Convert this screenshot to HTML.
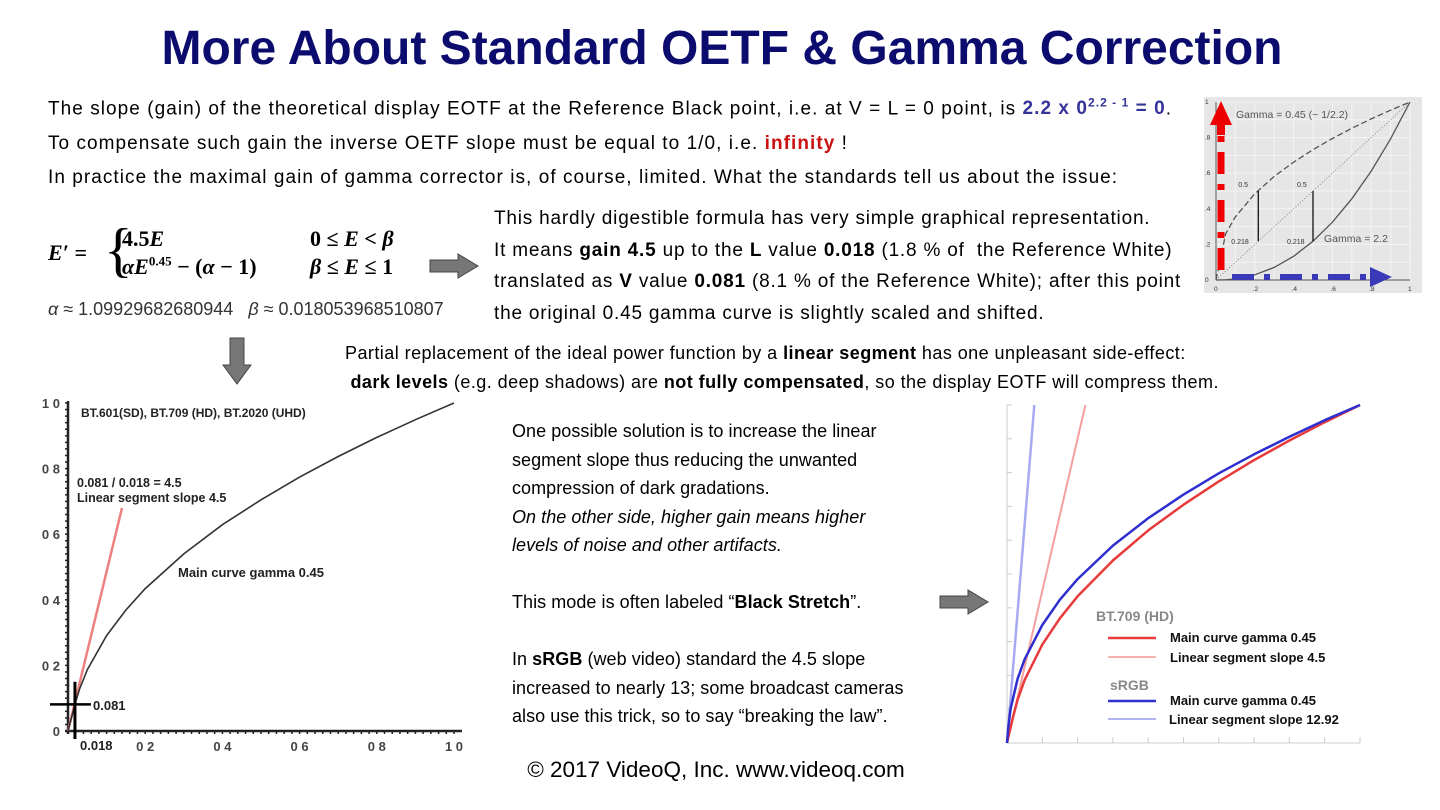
<!DOCTYPE html>
<html><head><meta charset="utf-8">
<style>
body{margin:0;width:1440px;height:810px;background:#fff;position:relative;overflow:hidden;font-family:"Liberation Sans",sans-serif;color:#000}
.a{position:absolute;white-space:nowrap}
.t{font-size:19px;letter-spacing:1.05px}
.e{font-size:19px;letter-spacing:0.8px}
.p{font-size:18px;letter-spacing:0.45px}
.m{font-size:18px;letter-spacing:0.05px}
b.blue{color:#33339a}
b.red{color:#cc1111}
.arrow{position:absolute}
</style></head><body>
<div class="a" style="left:0;width:1444px;text-align:center;top:21px;font-size:48px;font-weight:bold;color:#0c0c6e">More About Standard OETF &amp; Gamma Correction</div>
<div class="a t" style="left:48px;top:96px">The slope (gain) of the theoretical display EOTF at the Reference Black point, i.e. at V = L = 0 point, is <b class="blue">2.2 x 0<sup style="font-size:12px">2.2 - 1</sup> = 0</b>.</div>
<div class="a t" style="left:48px;top:133px">To compensate such gain the inverse OETF slope must be equal to 1/0, i.e. <b class="red">infinity</b> !</div>
<div class="a t" style="left:48px;top:167px">In practice the maximal gain of gamma corrector is, of course, limited. What the standards tell us about the issue:</div>

<div class="a" style="left:48px;top:226px;font-family:'Liberation Serif',serif;font-size:22px">
 <span style="position:absolute;left:0;top:14px;font-weight:bold;font-style:italic">E′ =</span>
 <span style="position:absolute;left:56px;top:-10px;font-size:60px;font-weight:normal">{</span>
 <span style="position:absolute;left:74px;top:0"><b>4.5<i>E</i></b></span>
 <span style="position:absolute;left:74px;top:28px"><b><i>αE</i><sup style="font-size:13px">0.45</sup> − (<i>α</i> − 1)</b></span>
 <span style="position:absolute;left:262px;top:0"><b>0 ≤ <i>E</i> &lt; <i>β</i></b></span>
 <span style="position:absolute;left:262px;top:28px"><b><i>β</i> ≤ <i>E</i> ≤ 1</b></span>
</div>
<div class="a" style="left:48px;top:299px;font-size:18px;color:#333"><i>α</i> ≈ 1.09929682680944 &nbsp; <i>β</i> ≈ 0.018053968510807</div>

<svg class="arrow" style="left:428px;top:253px" width="52" height="26"><polygon points="2,7 30,7 30,1 50,13 30,25 30,19 2,19" fill="#777" stroke="#444" stroke-width="1"/></svg>

<div class="a e" style="left:494px;top:203px;line-height:31.5px">This hardly digestible formula has very simple graphical representation.<br>It means <b>gain 4.5</b> up to the <b>L</b> value <b>0.018</b> (1.8 % of&nbsp; the Reference White)<br>translated as <b>V</b> value <b>0.081</b> (8.1 % of the Reference White); after this point<br>the original 0.45 gamma curve is slightly scaled and shifted.</div>

<svg class="arrow" style="left:222px;top:337px" width="30" height="48"><polygon points="8,1 22,1 22,28 29,28 15,47 1,28 8,28" fill="#777" stroke="#444"/></svg>

<div class="a p" style="left:345px;top:339px;line-height:29px">Partial replacement of the ideal power function by a <b>linear segment</b> has one unpleasant side-effect:<br>&nbsp;<b>dark levels</b> (e.g. deep shadows) are <b>not fully compensated</b>, so the display EOTF will compress them.</div>

<div class="a m" style="left:512px;top:417px;line-height:28.5px">One possible solution is to increase the linear<br>segment slope thus reducing the unwanted<br>compression of dark gradations.<br><i>On the other side, higher gain means higher<br>levels of noise and other artifacts.</i><br><br>This mode is often labeled “<b>Black Stretch</b>”.<br><br>In <b>sRGB</b> (web video) standard the 4.5 slope<br>increased to nearly 13; some broadcast cameras<br>also use this trick, so to say “breaking the law”.</div>

<svg class="arrow" style="left:938px;top:589px" width="52" height="26"><polygon points="2,7 30,7 30,1 50,13 30,25 30,19 2,19" fill="#777" stroke="#444"/></svg>

<div class="a" style="left:0;width:1432px;text-align:center;top:757px;font-size:22.5px">© 2017 VideoQ, Inc. www.videoq.com</div>

<svg id="gchart" class="a" style="left:1200px;top:95px" width="225" height="200"></svg>
<svg id="lchart" class="a" style="left:30px;top:390px" width="445" height="370"></svg>
<svg id="rchart" class="a" style="left:995px;top:398px" width="380" height="355"></svg>

<script>
// ---- data ----
const lumaL = [0,0.01,0.018,0.03,0.05,0.1,0.15,0.2,0.3,0.4,0.5,0.6,0.7,0.8,0.9,1];
const bt709V = [0,0.045,0.081,0.128,0.187,0.291,0.369,0.434,0.540,0.629,0.705,0.774,0.837,0.895,0.949,1];
const srgbL = [0,0.0031,0.01,0.03,0.05,0.1,0.15,0.2,0.3,0.4,0.5,0.6,0.7,0.8,0.9,1];
const srgbV = [0,0.040,0.100,0.190,0.248,0.349,0.424,0.485,0.584,0.665,0.735,0.798,0.854,0.906,0.955,1];
const bt709LinearX = [0,0.222];
const bt709LinearY = [0,1];
const srgbLinearX = [0,0.0774];
const srgbLinearY = [0,1];
const leftRedX = [0,0.14];
const leftRedY = [0,0.68];
const gammaX = [0,0.05,0.1,0.2,0.3,0.4,0.5,0.6,0.7,0.8,0.9,1];
const gamma045 = [0,0.26,0.355,0.485,0.582,0.662,0.732,0.795,0.852,0.905,0.954,1];
const gamma22 = [0,0.001,0.006,0.029,0.071,0.133,0.218,0.325,0.456,0.612,0.793,1];
const leftTicks = ["0","0.2","0.4","0.6","0.8","1.0"];
const tickVals = [0,0.2,0.4,0.6,0.8,1];
const insetTicks = ["0",".2",".4",".6",".8","1"];

const NS="http://www.w3.org/2000/svg";
function mk(svg,tag,attrs){const e=document.createElementNS(NS,tag);for(const k in attrs)e.setAttribute(k,attrs[k]);svg.appendChild(e);return e;}
function poly(xs,ys,sx,sy){return xs.map((x,i)=>sx(x).toFixed(1)+","+sy(ys[i]).toFixed(1)).join(" ");}

// ---- inset chart ----
(function(){
 const s=document.getElementById('gchart');
 const sx=v=>16+v*194, sy=v=>185-v*178;
 mk(s,'rect',{x:4,y:2,width:218,height:196,fill:'#e6e6e6'});
 for(let i=0;i<=10;i++){mk(s,'line',{x1:sx(i/10),x2:sx(i/10),y1:sy(0),y2:sy(1),stroke:'#f4f4f4','stroke-width':1});mk(s,'line',{y1:sy(i/10),y2:sy(i/10),x1:sx(0),x2:sx(1),stroke:'#f4f4f4','stroke-width':1});}
 mk(s,'line',{x1:sx(0),y1:sy(0),x2:sx(1),y2:sy(1),stroke:'#888','stroke-dasharray':'1,2'});
 let p=mk(s,'polyline',{points:poly(gammaX,gamma045,sx,sy),fill:'none',stroke:'#555','stroke-width':1.3,'stroke-dasharray':'6,3'});
 
 
 p=mk(s,'polyline',{points:poly(gammaX,gamma22,sx,sy),fill:'none',stroke:'#555','stroke-width':1.3});
 
 
 mk(s,'line',{x1:sx(0.218),y1:sy(0.5),x2:sx(0.218),y2:sy(0.218),stroke:'#111','stroke-width':1.3});
 mk(s,'line',{x1:sx(0.5),y1:sy(0.5),x2:sx(0.5),y2:sy(0.218),stroke:'#111','stroke-width':1.3});
 const t=(x,y,txt,fs,c)=>{const e=mk(s,'text',{x:x,y:y,'font-size':fs,fill:c||'#333','font-family':'Liberation Sans'});e.textContent=txt;return e;};
 t(36,23,'Gamma = 0.45 (~ 1/2.2)',10.5,'#555');t(124,147,'Gamma = 2.2',10.5,'#555');
 t(sx(0.218)-20,sy(0.5)-4,'0.5',7);t(sx(0.5)-16,sy(0.5)-4,'0.5',7);
 t(sx(0.218)-27,sy(0.218)+3,'0.218',7);t(sx(0.5)-26,sy(0.218)+3,'0.218',7);
 insetTicks.forEach((l,i)=>{t(sx(tickVals[i])-2,196,l,6.5);t(5,sy(tickVals[i])+2,l,6.5);});
 mk(s,'line',{x1:sx(0),y1:sy(0),x2:sx(0),y2:sy(1),stroke:'#555'});
 mk(s,'line',{x1:sx(0),y1:sy(0),x2:sx(1),y2:sy(0),stroke:'#555'});
 mk(s,'line',{x1:21,y1:175,x2:21,y2:30,stroke:'#e00','stroke-width':7,'stroke-dasharray':'22,10,6,10'});
 mk(s,'polygon',{points:'10,30 21,6 32,30 25,30 25,40 17,40 17,30',fill:'#e00'});
 mk(s,'line',{x1:32,y1:182,x2:178,y2:182,stroke:'#3a3ab8','stroke-width':6,'stroke-dasharray':'22,10,6,10'});
 mk(s,'polygon',{points:'170,172 192,182 170,192',fill:'#3a3ab8'});
})();

// ---- left chart ----
(function(){
 const s=document.getElementById('lchart');
 const sx=v=>38+v*386, sy=v=>341-v*328;
 mk(s,'line',{x1:sx(0),y1:sy(0)+3,x2:sx(0),y2:sy(1)-2,stroke:'#222','stroke-width':2.5});
 mk(s,'line',{x1:sx(0)-3,y1:sy(0),x2:sx(1)+8,y2:sy(0),stroke:'#222','stroke-width':2.5});
 for(let i=0;i<=50;i++){const v=i/50;mk(s,'line',{x1:sx(v),x2:sx(v),y1:sy(0),y2:sy(0)+3,stroke:'#222','stroke-width':1.5});mk(s,'line',{x1:sx(0)-3,x2:sx(0),y1:sy(v),y2:sy(v),stroke:'#222','stroke-width':1.5});}
 leftTicks.forEach((l,i)=>{
  let e=mk(s,'text',{x:sx(tickVals[i]),y:sy(0)+20,'font-size':13,'font-weight':'bold','text-anchor':'middle',fill:'#444','font-family':'Liberation Sans'});e.textContent=i==0?'':l.replace('.',' ');
  e=mk(s,'text',{x:sx(0)-8,y:sy(tickVals[i])+5,'font-size':13,'font-weight':'bold','text-anchor':'end',fill:'#444','font-family':'Liberation Sans'});e.textContent=l.replace('.',' ');
 });
 let p=mk(s,'polyline',{points:poly(leftRedX,leftRedY,sx,sy),fill:'none',stroke:'#ee8080','stroke-width':2.5});
 
 
 p=mk(s,'polyline',{points:poly(lumaL,bt709V,sx,sy),fill:'none',stroke:'#333','stroke-width':1.6});
 
 
 mk(s,'line',{x1:sx(0.018),y1:sy(0)+8,x2:sx(0.018),y2:sy(0.15),stroke:'#000','stroke-width':3});
 mk(s,'line',{x1:sx(0)-18,y1:sy(0.081),x2:sx(0.018)+16,y2:sy(0.081),stroke:'#000','stroke-width':2.5});
 const t=(x,y,txt,fs)=>{const e=mk(s,'text',{x:x,y:y,'font-size':fs,'font-weight':'bold',fill:'#222','font-family':'Liberation Sans'});e.textContent=txt;return e;};
 t(51,27,'BT.601(SD), BT.709 (HD), BT.2020 (UHD)',12);
 t(47,97,'0.081 / 0.018 = 4.5',12.5);t(47,112,'Linear segment slope 4.5',12.5);
 t(148,187,'Main curve gamma 0.45',13);
 t(63,320,'0.081',13);t(50,360,'0.018',13);
})();

// ---- right chart ----
(function(){
 const s=document.getElementById('rchart');
 const sx=v=>12+v*353, sy=v=>345-v*338;
 mk(s,'line',{x1:sx(0),y1:sy(0),x2:sx(0),y2:sy(1),stroke:'#ccc'});
 mk(s,'line',{x1:sx(0),y1:sy(0),x2:sx(1),y2:sy(0),stroke:'#ccc'});
 for(let i=1;i<=10;i++){mk(s,'line',{x1:sx(i/10),x2:sx(i/10),y1:sy(0),y2:sy(0)-6,stroke:'#ccc'});mk(s,'line',{x1:sx(0),x2:sx(0)+5,y1:sy(i/10),y2:sy(i/10),stroke:'#ccc'});}
 const line=(xs,ys,c,w,name)=>{const p=mk(s,'polyline',{points:poly(xs,ys,sx,sy),fill:'none',stroke:c,'stroke-width':w,'stroke-linejoin':'round'});
  
  };
 line(srgbLinearX,srgbLinearY,'#a6aaf0',2.5,'srgb-linear-segment');
 line(bt709LinearX,bt709LinearY,'#f5a0a0',2,'bt709-linear-segment');
 line(lumaL,bt709V,'#e83a3a',2.5,'bt709-main-curve');
 line(srgbL,srgbV,'#2f2fd0',2.5,'srgb-main-curve');
 const t=(x,y,txt,fs,c)=>{const e=mk(s,'text',{x:x,y:y,'font-size':fs,'font-weight':'bold',fill:c,'font-family':'Liberation Sans'});e.textContent=txt;return e;};
 t(101,223,'BT.709 (HD)',14,'#888');
 mk(s,'line',{x1:113,x2:161,y1:240,y2:240,stroke:'#e83a3a','stroke-width':2.5});t(175,244,'Main curve gamma 0.45',13,'#111');
 mk(s,'line',{x1:113,x2:161,y1:259,y2:259,stroke:'#f5b0b0','stroke-width':2});t(175,264,'Linear segment slope 4.5',13,'#111');
 t(115,292,'sRGB',14,'#888');
 mk(s,'line',{x1:113,x2:161,y1:303,y2:303,stroke:'#2f2fd0','stroke-width':2.5});t(175,307,'Main curve gamma 0.45',13,'#111');
 mk(s,'line',{x1:113,x2:161,y1:321,y2:321,stroke:'#b0b4f0','stroke-width':2});t(174,326,'Linear segment slope 12.92',13,'#111');
})();
</script>
</body></html>
